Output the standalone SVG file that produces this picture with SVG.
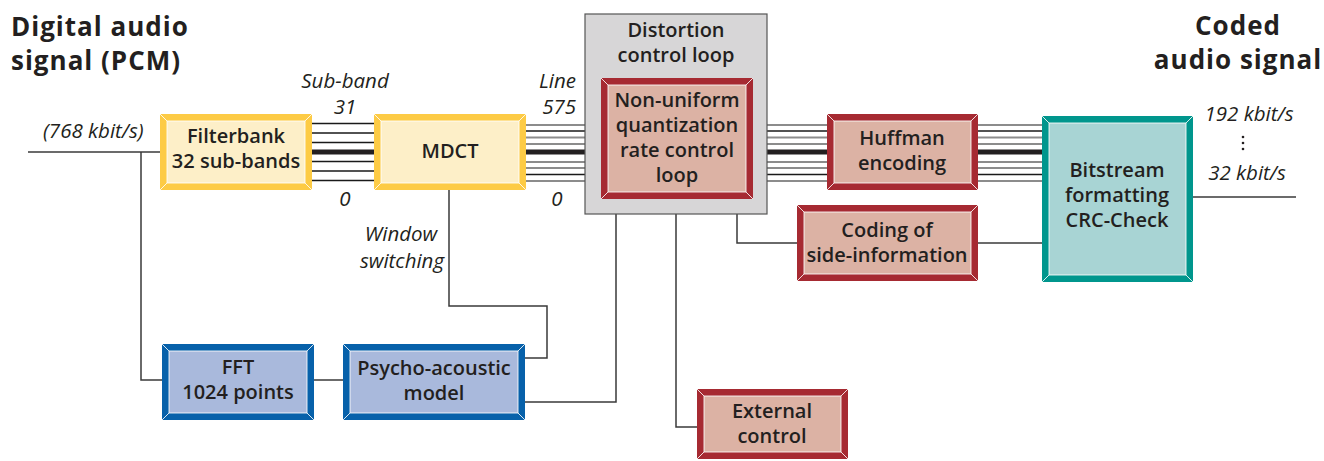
<svg xmlns="http://www.w3.org/2000/svg" width="1324" height="461" viewBox="0 0 1324 461">
<style>
.t{font-family:"Open Sans","Noto Sans","Liberation Sans",sans-serif;font-weight:600;font-size:20px;fill:#231f20;text-anchor:middle}
.h{font-family:"Open Sans","Noto Sans","Liberation Sans",sans-serif;font-weight:700;font-size:26px;letter-spacing:1px;fill:#231f20}
.i{font-family:"Open Sans","Noto Sans","Liberation Sans",sans-serif;font-style:italic;font-size:20.5px;fill:#231f20}
.c{fill:none;stroke:#3a3a3a;stroke-width:1.5}
.g{stroke:#8c8c8c;stroke-width:2}
.k{stroke:#1a1a1a;stroke-width:1.5}
.T{stroke:#231f20;stroke-width:5}
.bev{fill:none;stroke:#fff;stroke-width:1;opacity:0.85}
.yo{fill:#fdcb45}.yi{fill:#fdefc8}
.ro{fill:#a62a32}.ri{fill:#dcb2a4}
.bo{fill:#0761aa}.bi{fill:#a9b9dc}
.to{fill:#00968d}.ti{fill:#a8d4d4}
</style>

<!-- titles -->
<text class="h" x="11" y="36">Digital audio</text>
<text class="h" x="11" y="70">signal (PCM)</text>
<text class="h" x="1238" y="35" text-anchor="middle">Coded</text>
<text class="h" x="1238" y="69" text-anchor="middle">audio signal</text>

<!-- italic labels -->
<text class="i" x="43" y="138">(768 kbit/s)</text>
<text class="i" x="345" y="88" text-anchor="middle">Sub-band</text>
<text class="i" x="345" y="114" text-anchor="middle">31</text>
<text class="i" x="345" y="206" text-anchor="middle">0</text>
<text class="i" x="576" y="88" text-anchor="end">Line</text>
<text class="i" x="576" y="114" text-anchor="end">575</text>
<text class="i" x="557" y="206" text-anchor="middle">0</text>
<text class="i" x="401" y="241" text-anchor="middle">Window</text>
<text class="i" x="402" y="268" text-anchor="middle">switching</text>
<text class="i" x="1249" y="121" text-anchor="middle">192 kbit/s</text>
<text class="i" x="1247" y="180" text-anchor="middle">32 kbit/s</text>
<g fill="#231f20"><circle cx="1243" cy="137" r="1.3"/><circle cx="1243" cy="143" r="1.3"/><circle cx="1243" cy="149" r="1.3"/></g>

<!-- connectors -->
<g id="connectors">
<path class="c" d="M28 152H160"/>
<path class="c" d="M141 152V380H162"/>
<path class="c" d="M314 380H343"/>
<path class="c" d="M449 189V306H547V358H525"/>
<path class="c" d="M525 402H616V214"/>
<path class="c" d="M676 214V427H697"/>
<path class="c" d="M737 214V243H797"/>
<path class="c" d="M978 243H1042"/>
<path class="c" d="M1193 197H1296"/>
<g>
<path class="k" d="M312 123.5H374M312 133H374M312 142.5H374M312 161.5H374M312 171H374M312 180.5H374"/>
<path class="T" d="M312 152H374"/>
</g>
<g>
<path class="g" d="M526 125H585M526 137.5H585M526 144H585M526 162H585M526 168H585M526 181H585"/>
<path class="k" d="M526 131H585M526 174.5H585"/>
<path class="T" d="M526 152H585"/>
</g>
<g>
<path class="g" d="M767 125H827M767 137.5H827M767 144H827M767 162H827M767 168H827M767 181H827"/>
<path class="k" d="M767 131H827M767 174.5H827"/>
<path class="T" d="M767 152H827"/>
</g>
<g>
<path class="g" d="M978 125H1042M978 137.5H1042M978 144H1042M978 162H1042M978 168H1042M978 181H1042"/>
<path class="k" d="M978 131H1042M978 174.5H1042"/>
<path class="T" d="M978 152H1042"/>
</g>
</g>

<!-- nodes -->
<g id="filterbank">
<rect class="yo" x="160" y="114" width="152" height="76"/>
<rect class="yi" x="167" y="121" width="138" height="62"/>
<path class="bev" d="M160 114L167 121M312 114L305 121M160 190L167 183M312 190L305 183M167 121H305V183H167Z"/>
<text class="t" x="236" y="143">Filterbank</text>
<text class="t" x="236" y="168">32 sub-bands</text>
</g>

<g id="mdct">
<rect class="yo" x="374" y="114" width="152" height="76"/>
<rect class="yi" x="381" y="121" width="138" height="62"/>
<path class="bev" d="M374 114L381 121M526 114L519 121M374 190L381 183M526 190L519 183M381 121H519V183H381Z"/>
<text class="t" x="450" y="158">MDCT</text>
</g>

<g id="distortion">
<rect x="585" y="14" width="182" height="200" fill="#d7d6d7" stroke="#555" stroke-width="1.2"/>
<text class="t" x="676" y="37">Distortion</text>
<text class="t" x="676" y="62">control loop</text>
</g>

<g id="quantization">
<rect class="ro" x="601" y="78" width="152" height="121"/>
<rect class="ri" x="608" y="85" width="138" height="107"/>
<path class="bev" d="M601 78L608 85M753 78L746 85M601 199L608 192M753 199L746 192M608 85H746V192H608Z"/>
<text class="t" x="677" y="107">Non-uniform</text>
<text class="t" x="677" y="132">quantization</text>
<text class="t" x="677" y="157">rate control</text>
<text class="t" x="677" y="182">loop</text>
</g>

<g id="huffman">
<rect class="ro" x="827" y="114" width="151" height="76"/>
<rect class="ri" x="834" y="121" width="137" height="62"/>
<path class="bev" d="M827 114L834 121M978 114L971 121M827 190L834 183M978 190L971 183M834 121H971V183H834Z"/>
<text class="t" x="902" y="145">Huffman</text>
<text class="t" x="902" y="170">encoding</text>
</g>

<g id="sideinfo">
<rect class="ro" x="797" y="205" width="181" height="76"/>
<rect class="ri" x="804" y="212" width="167" height="62"/>
<path class="bev" d="M797 205L804 212M978 205L971 212M797 281L804 274M978 281L971 274M804 212H971V274H804Z"/>
<text class="t" x="887" y="237">Coding of</text>
<text class="t" x="887" y="262">side-information</text>
</g>

<g id="bitstream">
<rect class="to" x="1042" y="116" width="151" height="166"/>
<rect class="ti" x="1049" y="123" width="137" height="152"/>
<path class="bev" d="M1042 116L1049 123M1193 116L1186 123M1042 282L1049 275M1193 282L1186 275M1049 123H1186V275H1049Z"/>
<text class="t" x="1117" y="177">Bitstream</text>
<text class="t" x="1117" y="202">formatting</text>
<text class="t" x="1117" y="227">CRC-Check</text>
</g>

<g id="fft">
<rect class="bo" x="162" y="344" width="152" height="76"/>
<rect class="bi" x="169" y="351" width="138" height="62"/>
<path class="bev" d="M162 344L169 351M314 344L307 351M162 420L169 413M314 420L307 413M169 351H307V413H169Z"/>
<text class="t" x="238" y="374">FFT</text>
<text class="t" x="238" y="399">1024 points</text>
</g>

<g id="psycho">
<rect class="bo" x="343" y="344" width="182" height="76"/>
<rect class="bi" x="350" y="351" width="168" height="62"/>
<path class="bev" d="M343 344L350 351M525 344L518 351M343 420L350 413M525 420L518 413M350 351H518V413H350Z"/>
<text class="t" x="434" y="375">Psycho-acoustic</text>
<text class="t" x="434" y="400">model</text>
</g>

<g id="external">
<rect class="ro" x="697" y="389" width="151" height="70"/>
<rect class="ri" x="704" y="396" width="137" height="56"/>
<path class="bev" d="M697 389L704 396M848 389L841 396M697 459L704 452M848 459L841 452M704 396H841V452H704Z"/>
<text class="t" x="772" y="418">External</text>
<text class="t" x="772" y="443">control</text>
</g>
</svg>
